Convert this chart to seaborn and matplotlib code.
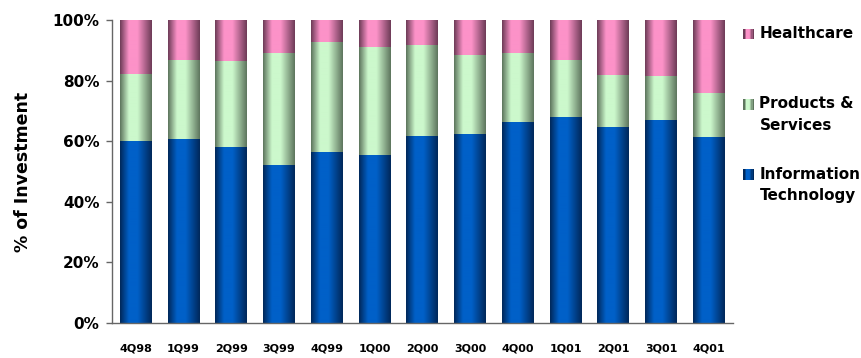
import numpy as np
import pandas as pd
import matplotlib
matplotlib.use("Agg")
import matplotlib.pyplot as plt
import seaborn as sns
from matplotlib.colors import to_rgb
from matplotlib.patches import Rectangle
from matplotlib.legend_handler import HandlerBase

quarters = ["4Q98", "1Q99", "2Q99", "3Q99", "4Q99", "1Q00", "2Q00",
            "3Q00", "4Q00", "1Q01", "2Q01", "3Q01", "4Q01"]
info_tech = [59.8, 60.7, 58.1, 52.1, 56.4, 55.4, 61.7, 62.4, 66.3, 67.7, 64.4, 66.7, 61.4]
products = [22.4, 26.1, 28.4, 37.0, 36.3, 35.7, 30.0, 26.0, 22.8, 19.1, 17.3, 14.8, 14.5]
healthcare = [17.8, 13.2, 13.5, 10.9, 7.3, 8.9, 8.3, 11.6, 10.9, 13.2, 18.3, 18.5, 24.1]

# (edge colour, centre colour) for the cylindrical shading of each series
shades = {
    "it": ("#00285a", "#0060c8"),
    "prod": ("#5e765e", "#ccf8cc"),
    "hc": ("#6e3c58", "#fc92c8"),
}
labels = {"hc": "Healthcare\n", "prod": "Products &\nServices",
          "it": "Information\nTechnology"}

df = pd.DataFrame({"quarter": quarters, "it": info_tech,
                   "prod": products, "hc": healthcare})
df["lvl_it"] = df["it"]
df["lvl_prod"] = df["it"] + df["prod"]
df["lvl_hc"] = df["it"] + df["prod"] + df["hc"]


def shade_profile(n=64):
    t = np.linspace(0, 1, n)
    return np.interp(t, [0.0, 0.28, 0.55, 1.0], [0.0, 1.0, 1.0, 0.0])


def gradient_rgb(key, n=64):
    dark, light = np.array(to_rgb(shades[key][0])), np.array(to_rgb(shades[key][1]))
    p = shade_profile(n)[:, None]
    return dark + (light - dark) * p


sns.set_style("white")
plt.rcParams["font.family"] = ["DejaVu Sans"]
plt.rcParams["font.weight"] = "bold"
plt.rcParams["text.color"] = "black"
plt.rcParams["xtick.color"] = "black"
plt.rcParams["ytick.color"] = "black"
plt.rcParams["axes.labelcolor"] = "black"

fig = plt.figure(figsize=(8.61, 3.58), dpi=100)
ax = fig.add_axes([0.130, 0.098, 0.721, 0.846])

# stacked bars drawn as cumulative levels, tallest first
for key in ["hc", "prod", "it"]:
    n_before = len(ax.patches)
    sns.barplot(data=df, x="quarter", y="lvl_" + key, color=shades[key][1],
                width=0.67, ax=ax, saturation=1, linewidth=0)
    grad = gradient_rgb(key)[None, :, :]
    for patch in ax.patches[n_before:]:
        x0, w = patch.get_x(), patch.get_width()
        y0, h = patch.get_y(), patch.get_height()
        ax.imshow(grad, extent=(x0, x0 + w, y0, y0 + h), aspect="auto",
                  interpolation="bilinear", zorder=patch.get_zorder() + 0.01 * len(ax.images))

ax.set_xlim(-0.5, len(quarters) - 0.5)
ax.set_ylim(0, 100)
ax.set_yticks(np.arange(0, 101, 20))
ax.set_yticklabels([f"{v}%" for v in range(0, 101, 20)], fontsize=11, fontweight="bold")
ax.set_xticks(range(len(quarters)))
ax.set_xticklabels(quarters, fontsize=8, fontweight="bold")
ax.set_xticks(np.arange(-0.5, len(quarters)), minor=True)
ax.tick_params(axis="x", which="major", length=0, pad=15)
ax.tick_params(axis="x", which="minor", length=4, width=1, color="#666666", direction="out")
ax.tick_params(axis="y", length=4.5, width=1, color="#666666", direction="out", left=True, pad=4.5)
ax.set_xlabel("")
ax.set_ylabel("% of Investment", fontsize=12.5, fontweight="bold", labelpad=15)

for side in ("top", "right"):
    ax.spines[side].set_visible(False)
for side in ("left", "bottom"):
    ax.spines[side].set_color("#666666")
    ax.spines[side].set_linewidth(1)


class GradientSquare(HandlerBase):
    """Shaded square key, lined up with the first line of its label."""

    def __init__(self, key, lift):
        super().__init__()
        self.key = key
        self.lift = lift

    def create_artists(self, legend, orig_handle, xdescent, ydescent, width, height, fontsize, trans):
        cols = gradient_rgb(self.key, 8)
        size = min(width, height)
        x0 = -xdescent + (width - size)
        y0 = -ydescent + (height - size) / 2 + self.lift
        sw = size / len(cols)
        return [Rectangle((x0 + i * sw, y0), sw * 1.05, size, facecolor=c,
                          edgecolor="none", transform=trans)
                for i, c in enumerate(cols)]


order = ["hc", "prod", "it"]
handles = [Rectangle((0, 0), 1, 1) for _ in order]
leg = ax.legend(handles, [labels[k] for k in order],
                handler_map={h: GradientSquare(k, 8.0) for h, k in zip(handles, order)},
                loc="upper left", bbox_to_anchor=(1.0, 1.015), frameon=False,
                prop={"weight": "bold", "size": 11}, handlelength=0.7, handleheight=0.7,
                handletextpad=0.35, labelspacing=2.2, borderaxespad=0.3)
for t in leg.get_texts():
    t.set_linespacing(1.55)

fig.savefig("out.png", dpi=100)
